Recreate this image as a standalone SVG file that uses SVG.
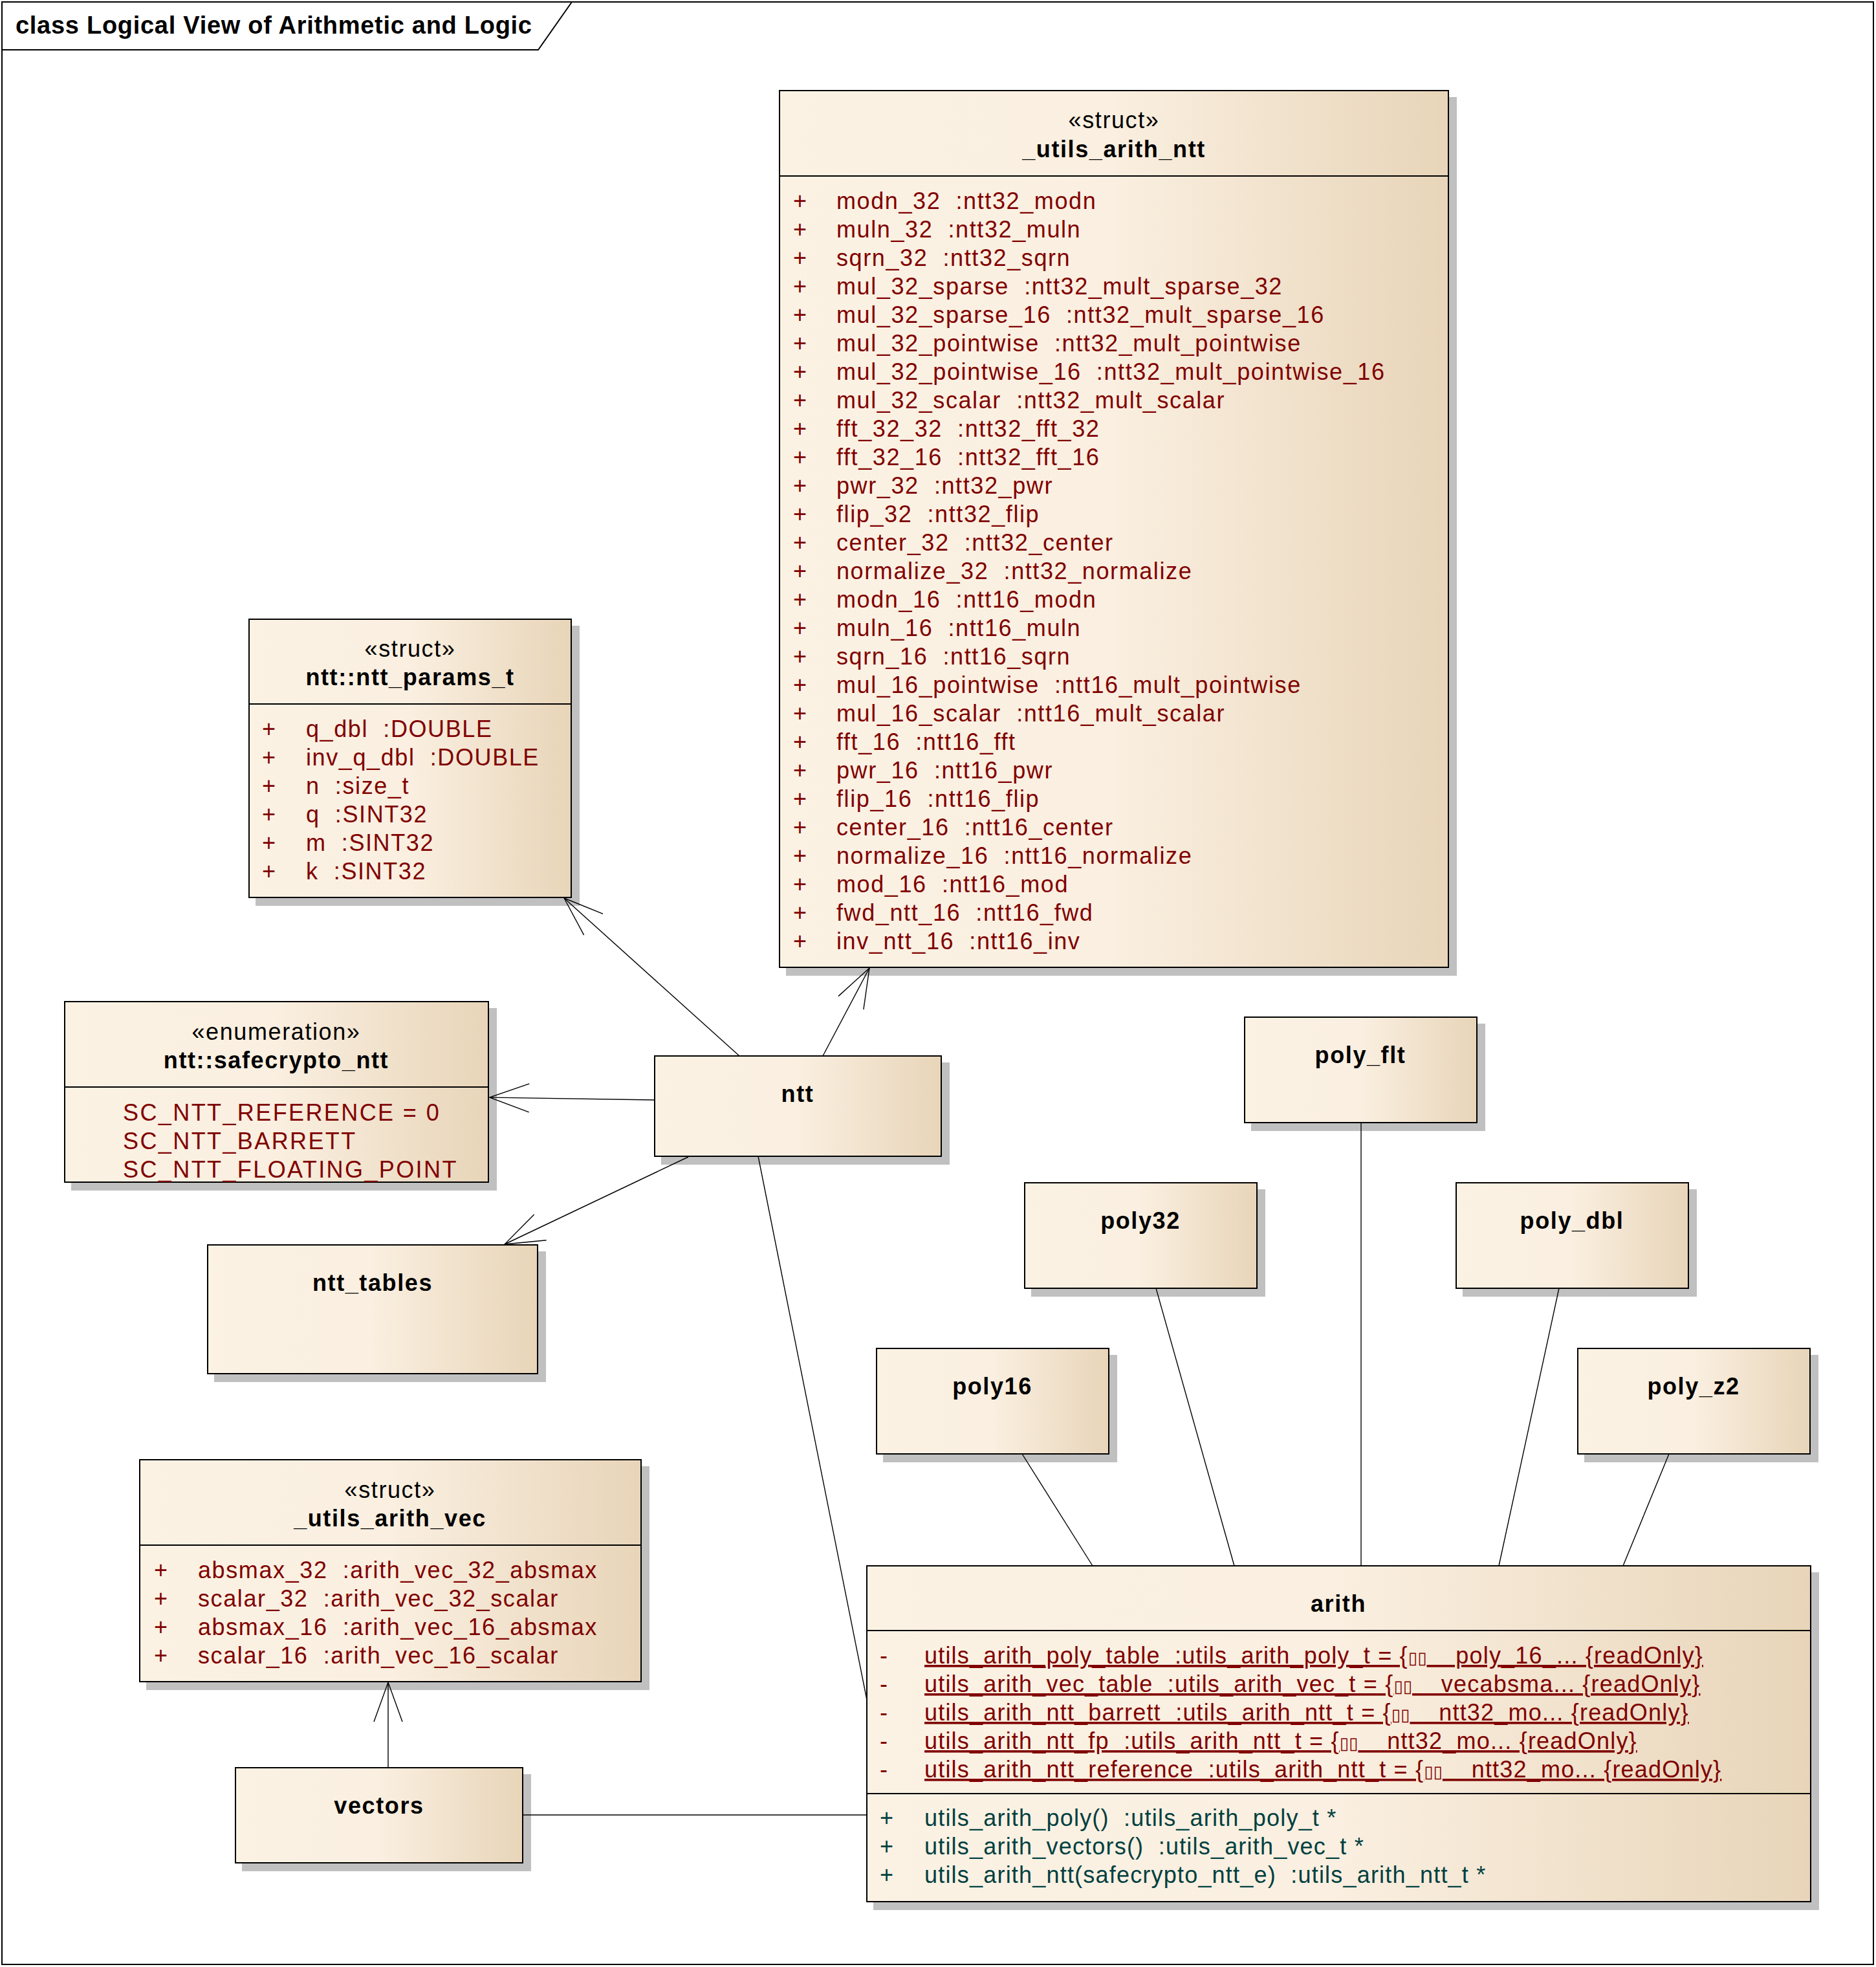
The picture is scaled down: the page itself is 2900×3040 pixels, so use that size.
<svg xmlns="http://www.w3.org/2000/svg" width="2900" height="3040" viewBox="0 0 2900 3040" xml:space="preserve">
<defs>
<linearGradient id="g" x1="0" y1="0" x2="1" y2="0">
<stop offset="0" stop-color="#FBF2E4"/>
<stop offset="0.5" stop-color="#FAEFE0"/>
<stop offset="1" stop-color="#E8D5B9"/>
</linearGradient>
<marker id="arr" markerUnits="userSpaceOnUse" viewBox="-70 -40 80 80" markerWidth="80" markerHeight="80" refX="0" refY="0" orient="auto" overflow="visible">
<path d="M-61,-22 L0,0 L-61,22" fill="none" stroke="#000" stroke-width="1.4"/>
</marker>
</defs>
<style>
text { font-family: "Liberation Sans", Arial, sans-serif; font-size: 36px; letter-spacing: 1.6px; white-space: pre; }
.nm { font-weight: bold; text-anchor: middle; fill: #000; }
.st { text-anchor: middle; fill: #000; }
.at { fill: #800000; }
.op { fill: #004040; }
.ul { text-decoration: underline; }
.tight text { letter-spacing: 1.2px; }
.wide text { letter-spacing: 2.4px; }
.tofu { font-family: "DejaVu Sans", sans-serif; font-size: 26px; letter-spacing: 0; }
.box { fill: url(#g); stroke: #000; stroke-width: 2; }
.sh { fill: #C0C0C0; }
.sep { stroke: #000; stroke-width: 2; }
.con { stroke: #000; stroke-width: 1.4; fill: none; }
.frame { fill: none; stroke: #000; stroke-width: 2; }
</style>
<rect width="2900" height="3040" fill="#fff"/>

<g id="frame">
<rect class="frame" x="3" y="3" width="2893" height="3033"/>
<path class="frame" d="M3,77 H832 L884,3"/>
<text x="24" y="52" textLength="798" lengthAdjust="spacing" style="font-weight:bold; font-size:38px; letter-spacing:0">class Logical View of Arithmetic and Logic</text>
</g>

<g id="node-utils_arith_ntt">
<rect class="sh" x="1215" y="150" width="1037" height="1358"/>
<rect class="box" x="1205" y="140" width="1034" height="1355"/>
<line class="sep" x1="1205" y1="272" x2="2239" y2="272"/>
<text class="st" x="1722" y="198">«struct»</text>
<text class="nm" x="1722" y="243">_utils_arith_ntt</text>
<g class="at">
<text x="1226" y="323">+</text><text x="1293" y="323">modn_32  :ntt32_modn</text>
<text x="1226" y="367">+</text><text x="1293" y="367">muln_32  :ntt32_muln</text>
<text x="1226" y="411">+</text><text x="1293" y="411">sqrn_32  :ntt32_sqrn</text>
<text x="1226" y="455">+</text><text x="1293" y="455">mul_32_sparse  :ntt32_mult_sparse_32</text>
<text x="1226" y="499">+</text><text x="1293" y="499">mul_32_sparse_16  :ntt32_mult_sparse_16</text>
<text x="1226" y="543">+</text><text x="1293" y="543">mul_32_pointwise  :ntt32_mult_pointwise</text>
<text x="1226" y="587">+</text><text x="1293" y="587">mul_32_pointwise_16  :ntt32_mult_pointwise_16</text>
<text x="1226" y="631">+</text><text x="1293" y="631">mul_32_scalar  :ntt32_mult_scalar</text>
<text x="1226" y="675">+</text><text x="1293" y="675">fft_32_32  :ntt32_fft_32</text>
<text x="1226" y="719">+</text><text x="1293" y="719">fft_32_16  :ntt32_fft_16</text>
<text x="1226" y="763">+</text><text x="1293" y="763">pwr_32  :ntt32_pwr</text>
<text x="1226" y="807">+</text><text x="1293" y="807">flip_32  :ntt32_flip</text>
<text x="1226" y="851">+</text><text x="1293" y="851">center_32  :ntt32_center</text>
<text x="1226" y="895">+</text><text x="1293" y="895">normalize_32  :ntt32_normalize</text>
<text x="1226" y="939">+</text><text x="1293" y="939">modn_16  :ntt16_modn</text>
<text x="1226" y="983">+</text><text x="1293" y="983">muln_16  :ntt16_muln</text>
<text x="1226" y="1027">+</text><text x="1293" y="1027">sqrn_16  :ntt16_sqrn</text>
<text x="1226" y="1071">+</text><text x="1293" y="1071">mul_16_pointwise  :ntt16_mult_pointwise</text>
<text x="1226" y="1115">+</text><text x="1293" y="1115">mul_16_scalar  :ntt16_mult_scalar</text>
<text x="1226" y="1159">+</text><text x="1293" y="1159">fft_16  :ntt16_fft</text>
<text x="1226" y="1203">+</text><text x="1293" y="1203">pwr_16  :ntt16_pwr</text>
<text x="1226" y="1247">+</text><text x="1293" y="1247">flip_16  :ntt16_flip</text>
<text x="1226" y="1291">+</text><text x="1293" y="1291">center_16  :ntt16_center</text>
<text x="1226" y="1335">+</text><text x="1293" y="1335">normalize_16  :ntt16_normalize</text>
<text x="1226" y="1379">+</text><text x="1293" y="1379">mod_16  :ntt16_mod</text>
<text x="1226" y="1423">+</text><text x="1293" y="1423">fwd_ntt_16  :ntt16_fwd</text>
<text x="1226" y="1467">+</text><text x="1293" y="1467">inv_ntt_16  :ntt16_inv</text>
</g>
</g>

<g id="node-ntt_params_t">
<rect class="sh" x="395" y="967" width="501" height="433"/>
<rect class="box" x="385" y="957" width="498" height="430"/>
<line class="sep" x1="385" y1="1088" x2="883" y2="1088"/>
<text class="st" x="634" y="1015">«struct»</text>
<text class="nm" x="634" y="1059">ntt::ntt_params_t</text>
<g class="at">
<text x="405" y="1139">+</text><text x="473" y="1139">q_dbl  :DOUBLE</text>
<text x="405" y="1183">+</text><text x="473" y="1183">inv_q_dbl  :DOUBLE</text>
<text x="405" y="1227">+</text><text x="473" y="1227">n  :size_t</text>
<text x="405" y="1271">+</text><text x="473" y="1271">q  :SINT32</text>
<text x="405" y="1315">+</text><text x="473" y="1315">m  :SINT32</text>
<text x="405" y="1359">+</text><text x="473" y="1359">k  :SINT32</text>
</g>
</g>

<g id="node-safecrypto_ntt">
<rect class="sh" x="110" y="1558" width="658" height="282"/>
<rect class="box" x="100" y="1548" width="655" height="279"/>
<line class="sep" x1="100" y1="1680" x2="755" y2="1680"/>
<text class="st" x="427" y="1607">«enumeration»</text>
<text class="nm" x="427" y="1651">ntt::safecrypto_ntt</text>
<g class="at wide">
<text x="190" y="1732">SC_NTT_REFERENCE = 0</text>
<text x="190" y="1776">SC_NTT_BARRETT</text>
<text x="190" y="1820">SC_NTT_FLOATING_POINT</text>
</g>
</g>

<g id="node-ntt">
<rect class="sh" x="1022" y="1642" width="446" height="158"/>
<rect class="box" x="1012" y="1632" width="443" height="155"/>
<text class="nm" x="1233" y="1703">ntt</text>
</g>

<g id="node-ntt_tables">
<rect class="sh" x="331" y="1934" width="513" height="202"/>
<rect class="box" x="321" y="1924" width="510" height="199"/>
<text class="nm" x="576" y="1995">ntt_tables</text>
</g>

<g id="node-poly_flt">
<rect class="sh" x="1934" y="1582" width="362" height="166"/>
<rect class="box" x="1924" y="1572" width="359" height="163"/>
<text class="nm" x="2103" y="1643">poly_flt</text>
</g>

<g id="node-poly32">
<rect class="sh" x="1594" y="1838" width="362" height="166"/>
<rect class="box" x="1584" y="1828" width="359" height="163"/>
<text class="nm" x="1763" y="1899">poly32</text>
</g>

<g id="node-poly_dbl">
<rect class="sh" x="2261" y="1838" width="362" height="166"/>
<rect class="box" x="2251" y="1828" width="359" height="163"/>
<text class="nm" x="2430" y="1899">poly_dbl</text>
</g>

<g id="node-poly16">
<rect class="sh" x="1365" y="2094" width="362" height="166"/>
<rect class="box" x="1355" y="2084" width="359" height="163"/>
<text class="nm" x="1534" y="2155">poly16</text>
</g>

<g id="node-poly_z2">
<rect class="sh" x="2449" y="2094" width="362" height="166"/>
<rect class="box" x="2439" y="2084" width="359" height="163"/>
<text class="nm" x="2618" y="2155">poly_z2</text>
</g>

<g id="node-utils_arith_vec">
<rect class="sh" x="226" y="2266" width="778" height="346"/>
<rect class="box" x="216" y="2256" width="775" height="343"/>
<line class="sep" x1="216" y1="2388" x2="991" y2="2388"/>
<text class="st" x="603" y="2315">«struct»</text>
<text class="nm" x="603" y="2359">_utils_arith_vec</text>
<g class="at">
<text x="238" y="2439">+</text><text x="306" y="2439">absmax_32  :arith_vec_32_absmax</text>
<text x="238" y="2483">+</text><text x="306" y="2483">scalar_32  :arith_vec_32_scalar</text>
<text x="238" y="2527">+</text><text x="306" y="2527">absmax_16  :arith_vec_16_absmax</text>
<text x="238" y="2571">+</text><text x="306" y="2571">scalar_16  :arith_vec_16_scalar</text>
</g>
</g>

<g id="node-vectors">
<rect class="sh" x="374" y="2742" width="447" height="150"/>
<rect class="box" x="364" y="2732" width="444" height="147"/>
<text class="nm" x="586" y="2803">vectors</text>
</g>

<g id="node-arith">
<rect class="sh" x="1350" y="2430" width="1462" height="522"/>
<rect class="box" x="1340" y="2420" width="1459" height="519"/>
<line class="sep" x1="1340" y1="2520" x2="2799" y2="2520"/>
<line class="sep" x1="1340" y1="2772" x2="2799" y2="2772"/>
<text class="nm" x="2069" y="2491">arith</text>
<g class="at tight">
<text x="1360" y="2571">-</text><text class="ul" x="1429" y="2571">utils_arith_poly_table  :utils_arith_poly_t = {<tspan class="tofu">▯▯</tspan>    poly_16_... {readOnly}</text>
<text x="1360" y="2615">-</text><text class="ul" x="1429" y="2615">utils_arith_vec_table  :utils_arith_vec_t = {<tspan class="tofu">▯▯</tspan>    vecabsma... {readOnly}</text>
<text x="1360" y="2659">-</text><text class="ul" x="1429" y="2659">utils_arith_ntt_barrett  :utils_arith_ntt_t = {<tspan class="tofu">▯▯</tspan>    ntt32_mo... {readOnly}</text>
<text x="1360" y="2703">-</text><text class="ul" x="1429" y="2703">utils_arith_ntt_fp  :utils_arith_ntt_t = {<tspan class="tofu">▯▯</tspan>    ntt32_mo... {readOnly}</text>
<text x="1360" y="2747">-</text><text class="ul" x="1429" y="2747">utils_arith_ntt_reference  :utils_arith_ntt_t = {<tspan class="tofu">▯▯</tspan>    ntt32_mo... {readOnly}</text>
</g>
<g class="op tight">
<text x="1360" y="2822">+</text><text x="1429" y="2822">utils_arith_poly()  :utils_arith_poly_t *</text>
<text x="1360" y="2866">+</text><text x="1429" y="2866">utils_arith_vectors()  :utils_arith_vec_t *</text>
<text x="1360" y="2910">+</text><text x="1429" y="2910">utils_arith_ntt(safecrypto_ntt_e)  :utils_arith_ntt_t *</text>
</g>
</g>

<g id="connectors">
<line class="con" x1="1143" y1="1632" x2="872" y2="1388" marker-end="url(#arr)"/>
<line class="con" x1="1272" y1="1632" x2="1344" y2="1496" marker-end="url(#arr)"/>
<line class="con" x1="1012" y1="1700" x2="757" y2="1696" marker-end="url(#arr)"/>
<line class="con" x1="1064" y1="1788" x2="780" y2="1923" marker-end="url(#arr)"/>
<line class="con" x1="600" y1="2732" x2="600" y2="2600" marker-end="url(#arr)"/>
<line class="con" x1="1172" y1="1787" x2="1340" y2="2627"/>
<line class="con" x1="808" y1="2805" x2="1340" y2="2805"/>
<line class="con" x1="1580" y1="2247" x2="1689" y2="2420"/>
<line class="con" x1="1787" y1="1991" x2="1908" y2="2420"/>
<line class="con" x1="2104" y1="1735" x2="2104" y2="2420"/>
<line class="con" x1="2410" y1="1991" x2="2317" y2="2420"/>
<line class="con" x1="2580" y1="2247" x2="2509" y2="2420"/>
</g>
</svg>
